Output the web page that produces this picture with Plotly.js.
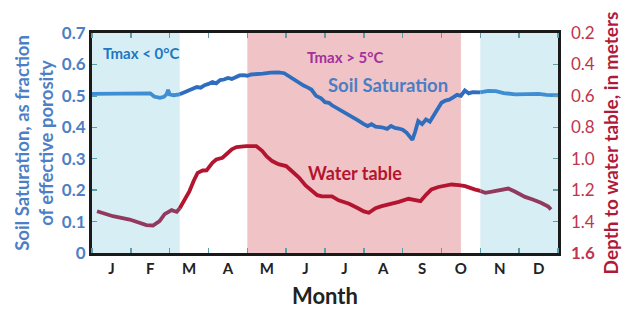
<!DOCTYPE html>
<html>
<head>
<meta charset="utf-8">
<script src="https://cdn.plot.ly/plotly-3.0.1.min.js"></script>
<style>html,body{margin:0;padding:0;background:#fff;}#chart{width:632px;height:313px;}</style>
</head>
<body>
<div id="chart"></div>
<script>
// Month tick labels (placed at mid-month; x measured in months from Jan 1)
const monthLabels = ['J','F','M','A','M','J','J','A','S','O','N','D'];
const monthCenters = [0.5,1.5,2.5,3.5,4.5,5.5,6.5,7.5,8.5,9.5,10.5,11.5];

// Left axis ticks
const satTicks = [0,0.1,0.2,0.3,0.4,0.5,0.6,0.7];
const satTickText = ['0','0.1','0.2','0.3','0.4','0.5','0.6','0.7'];
// Right axis ticks
const depthTicks = [0.2,0.4,0.6,0.8,1.0,1.2,1.4,1.6];
const depthTickText = ['0.2','0.4','0.6','0.8','1.0','1.2','1.4','<b>1.6</b>'];

// Soil saturation (fraction of effective porosity)
const soilX = [0.0,0.3,0.6,0.9,1.2,1.5,1.6,1.75,1.85,1.92,1.96,2.0,2.1,2.26,2.4,2.5,2.6,2.7,2.8,2.9,3.0,3.1,3.2,3.3,3.4,3.5,3.6,3.7,3.8,3.9,4.0,4.1,4.2,4.4,4.6,4.8,4.95,5.1,5.2,5.33,5.45,5.55,5.65,5.77,5.9,6.0,6.1,6.18,6.3,6.4,6.5,6.62,6.75,6.85,7.0,7.1,7.2,7.3,7.46,7.6,7.7,7.8,7.9,8.0,8.1,8.2,8.25,8.32,8.4,8.5,8.6,8.7,8.8,8.9,9.0,9.1,9.2,9.3,9.4,9.5,9.6,9.7,9.8,10.0,10.2,10.4,10.6,10.9,11.2,11.5,11.7,11.9,12.0];
const soilY = [0.506,0.507,0.508,0.509,0.510,0.508,0.498,0.494,0.497,0.505,0.519,0.505,0.502,0.505,0.512,0.518,0.522,0.528,0.526,0.534,0.538,0.544,0.540,0.550,0.552,0.557,0.554,0.561,0.565,0.566,0.564,0.568,0.570,0.571,0.574,0.575,0.572,0.560,0.552,0.540,0.533,0.527,0.520,0.500,0.492,0.480,0.478,0.470,0.462,0.455,0.448,0.438,0.430,0.422,0.410,0.404,0.410,0.402,0.400,0.395,0.404,0.398,0.396,0.392,0.383,0.365,0.360,0.385,0.420,0.410,0.425,0.418,0.440,0.462,0.478,0.485,0.488,0.495,0.503,0.500,0.517,0.508,0.512,0.511,0.516,0.515,0.509,0.505,0.507,0.506,0.503,0.502,0.502];

// Depth to water table (m)
const waterX = [0.13,0.54,0.97,1.2,1.4,1.57,1.74,1.87,2.05,2.15,2.18,2.26,2.4,2.51,2.62,2.72,2.85,2.95,3.1,3.2,3.36,3.5,3.6,3.72,3.97,4.23,4.38,4.5,4.64,4.8,5.0,5.15,5.33,5.5,5.67,5.8,5.92,6.05,6.18,6.35,6.62,6.85,7.0,7.13,7.3,7.46,7.7,7.9,8.15,8.3,8.46,8.6,8.74,8.92,9.1,9.26,9.45,9.61,9.85,10.0,10.13,10.3,10.5,10.72,10.9,11.15,11.35,11.56,11.75,11.82];
const waterY = [1.334,1.366,1.387,1.405,1.422,1.425,1.397,1.353,1.327,1.336,1.338,1.315,1.26,1.206,1.14,1.09,1.075,1.074,1.026,1.005,0.994,0.96,0.94,0.926,0.92,0.92,0.95,0.985,1.015,1.035,1.047,1.08,1.12,1.17,1.205,1.232,1.24,1.238,1.24,1.265,1.287,1.315,1.335,1.344,1.315,1.302,1.29,1.275,1.255,1.262,1.27,1.23,1.196,1.18,1.17,1.164,1.168,1.175,1.195,1.205,1.217,1.21,1.198,1.19,1.21,1.243,1.26,1.28,1.305,1.323];

// Seasonal bands (months)
const coldBands = [[0, 2.26], [10, 12]];
const warmBand = [4, 9.5];

function seg(xs, ys, a, b) {
  const ox = [], oy = [];
  xs.forEach((x, i) => { if (x >= a && x <= b) { ox.push(x); oy.push(ys[i]); } });
  return {x: ox, y: oy};
}

const traces = [];
const soilSegs = [[0,2.26,'#3f8dd2'],[2.26,10.0,'#2f6dbf'],[10.0,12,'#3f8dd2']];
soilSegs.forEach(s => {
  const d = seg(soilX, soilY, s[0], s[1]);
  traces.push({x: d.x, y: d.y, type: 'scatter', mode: 'lines', yaxis: 'y',
    line: {color: s[2], width: 3.8}, hoverinfo: 'skip', showlegend: false});
});
const waterSegs = [[0,2.26,'#913a5e'],[2.26,10.0,'#b3142f'],[10.0,12,'#913a5e']];
waterSegs.forEach(s => {
  const d = seg(waterX, waterY, s[0], s[1]);
  traces.push({x: d.x, y: d.y, type: 'scatter', mode: 'lines', yaxis: 'y2',
    line: {color: s[2], width: 3.8}, hoverinfo: 'skip', showlegend: false});
});

const shapes = [];
coldBands.forEach(b => shapes.push({type:'rect', xref:'x', yref:'paper', x0:b[0], x1:b[1], y0:0, y1:1,
  fillcolor:'#d8eef5', line:{width:0}, layer:'below'}));
shapes.push({type:'rect', xref:'x', yref:'paper', x0:warmBand[0], x1:warmBand[1], y0:0, y1:1,
  fillcolor:'#f0c4c6', line:{width:0}, layer:'below'});

const FONT = 'Lato, "Open Sans", sans-serif';
const tickCol = '#5f9ea6';

const layout = {
  width: 632, height: 313,
  margin: {l: 92, r: 74, t: 33, b: 60},
  paper_bgcolor: '#ffffff', plot_bgcolor: '#ffffff',
  showlegend: false,
  xaxis: {
    range: [0, 12], showgrid: false, zeroline: false,
    tickmode: 'array', tickvals: monthCenters, ticktext: monthLabels,
    ticks: '', ticklen: 0,
    tickfont: {family: FONT, size: 15, color: '#222', weight: 'bold'},
    minor: {tickmode: 'linear', tick0: 0, dtick: 1, ticks: 'inside', ticklen: 5, tickcolor: tickCol, tickwidth: 1.5, showgrid: false},
    showline: true, mirror: 'ticks', linecolor: '#1a1a1a', linewidth: 3,
    title: {text: 'Month', font: {family: FONT, size: 22, color: '#222', weight: 'bold'}, standoff: 13}
  },
  yaxis: {
    range: [0, 0.7], showgrid: false, zeroline: false,
    tickmode: 'array', tickvals: satTicks, ticktext: satTickText,
    ticks: 'inside', ticklen: 5, tickcolor: tickCol, tickwidth: 1.5,
    tickfont: {family: FONT, size: 17, color: '#4d7fc6', weight: 'bold'},
    showline: true, mirror: 'ticks', linecolor: '#1a1a1a', linewidth: 3,
    title: {text: 'Soil Saturation, as fraction<br>of effective porosity', font: {family: FONT, size: 18.5, color: '#4d7fc6', weight: 'bold'}, standoff: 4}
  },
  yaxis2: {
    overlaying: 'y', side: 'right', range: [1.6, 0.2], showgrid: false, zeroline: false,
    tickmode: 'array', tickvals: depthTicks, ticktext: depthTickText,
    ticks: '', ticklabelstandoff: 12,
    tickfont: {family: FONT, size: 17, color: '#c0344e'},
    title: {text: 'Depth to water table, in meters', font: {family: FONT, size: 19, color: '#b01a3a', weight: 'bold'}, standoff: 10}
  },
  shapes: shapes,
  annotations: [
    {text: 'Tmax < 0°C', x: 0.22, y: 0.636, xref: 'x', yref: 'y', xanchor: 'left', yanchor: 'middle', showarrow: false,
      font: {family: FONT, size: 15, color: '#1b78c4', weight: 'bold'}},
    {text: 'Tmax > 5°C', x: 5.49, y: 0.625, xref: 'x', yref: 'y', xanchor: 'left', yanchor: 'middle', showarrow: false,
      font: {family: FONT, size: 15, color: '#a2319c', weight: 'bold'}},
    {text: 'Soil Saturation', x: 6.03, y: 0.534, xref: 'x', yref: 'y', xanchor: 'left', yanchor: 'middle', showarrow: false,
      font: {family: FONT, size: 18.5, color: '#4a7ec4', weight: 'bold'}},
    {text: 'Water table', x: 5.5, y: 0.256, xref: 'x', yref: 'y', xanchor: 'left', yanchor: 'middle', showarrow: false,
      font: {family: FONT, size: 18, color: '#b3142f', weight: 'bold'}}
  ]
};

Plotly.newPlot('chart', traces, layout, {staticPlot: true, displayModeBar: false});
</script>
</body>
</html>
